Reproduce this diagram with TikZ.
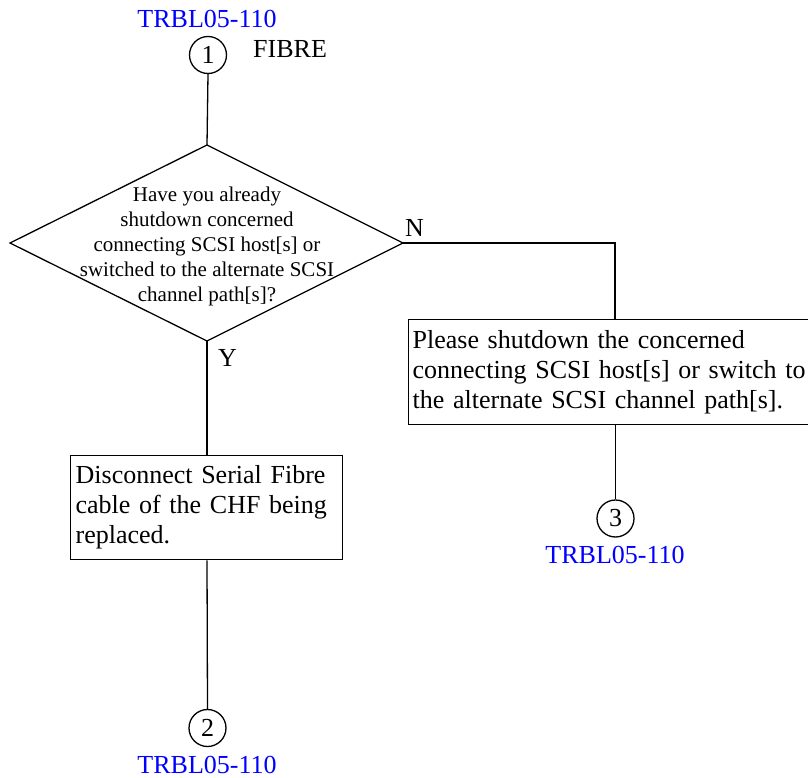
\documentclass[tikz,border=0pt]{standalone}
\usepackage{fontspec}
\setmainfont{Liberation Serif}
\begin{document}
\begin{tikzpicture}[x=1pt,y=-1pt,
  line/.style={draw=black, line width=1.3pt},
  conn/.style={draw, circle, line width=1.3pt, minimum size=37pt, inner sep=0pt, font=\fontsize{26}{30}\selectfont},
  ref/.style={text=blue, anchor=base, inner sep=0pt, font=\fontsize{26}{30}\selectfont},
  plain/.style={anchor=base, inner sep=0pt, font=\fontsize{26}{30}\selectfont},
  stepbox/.style={draw, line width=1.3pt, align=left, inner xsep=5pt, inner ysep=4pt, font=\fontsize{26}{30}\selectfont, anchor=north west},
  qtext/.style={align=center, inner sep=0pt, font=\fontsize{21}{25}\selectfont}]
\useasboundingbox (0,0) rectangle (808,778);
% connector 1
\node[ref] (r1) at (207,28) {TRBL05-110};
\node[conn] (c1) at (208,55) {1};
\node[plain, anchor=base west] (fib) at (253,58) {FIBRE};
% decision diamond
\coordinate (dt) at (207,145);
\coordinate (dl) at (10,243);
\coordinate (dr) at (403,243);
\coordinate (db) at (207,341);
\draw[line] (dt) -- (dr) -- (db) -- (dl) -- cycle;
\node[qtext] (q) at (207,246) {Have you already\\shutdown concerned\\connecting SCSI host[s] or\\switched to the alternate SCSI\\channel path[s]?};
\node[plain, anchor=base west] (nlab) at (405,236) {N};
\node[plain, anchor=base west] (ylab) at (218,366) {Y};
% boxes
\node[stepbox, text width=262pt, minimum height=104pt] (bl) at (70,455) {Disconnect Serial Fibre\\cable of the CHF being\\replaced.};
\node[stepbox, inner xsep=4pt, text width=402pt, minimum height=105pt] (br) at (408,319) {Please shutdown the concerned\\connecting SCSI host[s] or switch to\\the alternate SCSI channel path[s].};
% connectors 2, 3
\node[conn] (c2) at (207.5,728) {2};
\node[ref] (r2) at (207,773) {TRBL05-110};
\node[conn] (c3) at (615.5,518.5) {3};
\node[ref] (r3) at (615,563) {TRBL05-110};
% lines
\draw[line] (c1.south) -- (dt);
\draw[line] (db) -- (bl.north -| db);
\draw[line] (bl.south -| db) -- (c2.north);
\draw[line] (dr) -- (615,243) -- (br.north -| 615,0);
\draw[line] (br.south -| c3) -- (c3.north);
\end{tikzpicture}
\end{document}
